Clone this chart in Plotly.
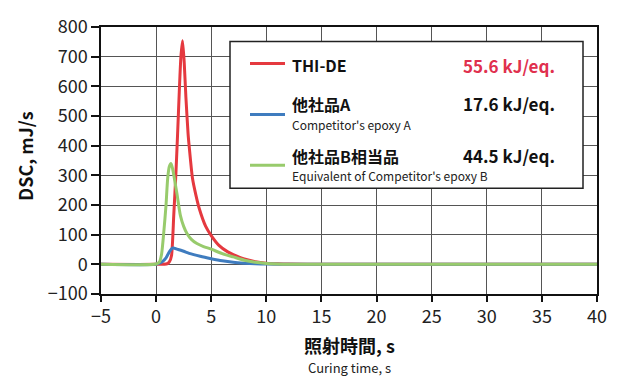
import plotly.graph_objects as go

FONT = "Noto Sans CJK JP"

# ---- data ----
t_red = [-5, 0, 1.0, 1.2, 1.4, 1.6, 1.8, 1.95, 2.1, 2.25, 2.4, 2.55, 2.7, 2.9, 3.0, 3.3, 3.6, 3.9,
         4.5, 5.0, 5.7, 6.5, 7.0, 8.0, 9.0, 10, 11, 12, 15, 40]
v_red = [0, 0, 2, 8, 30, 165, 310, 440, 580, 700, 754, 680, 565, 440, 398, 290, 235, 190,
         128, 97, 64, 42, 33, 18, 9, 4, 2, 1, 0, 0]

t_blue = [-5, 0, 0.3, 0.6, 0.9, 1.2, 1.5, 2.0, 2.5, 3.0, 4.0, 5.0, 6.0, 7.0, 8.0, 9.0, 10, 12, 40]
v_blue = [0, 0, 4, 10, 22, 42, 55, 50, 44, 37, 27, 19, 12, 7, 4, 2, 1, 0, 0]

t_green = [-5, 0, 0.3, 0.5, 0.7, 0.9, 1.05, 1.2, 1.35, 1.5, 1.7, 1.9, 2.2, 2.5, 2.8, 3.2, 3.7,
           4.3, 5.0, 6.0, 7.0, 8.0, 9.0, 10, 11, 12, 40]
v_green = [0, 1, 8, 35, 110, 200, 290, 330, 340, 322, 280, 236, 165, 128, 104, 84, 70,
           60, 51, 36, 25, 14, 7, 3, 1, 0, 0]

names_jp = ["THI-DE", "他社品A", "他社品B相当品"]
names_en = ["", "Competitor's epoxy A", "Equivalent of Competitor's epoxy B"]
energies = ["55.6 kJ/eq.", "17.6 kJ/eq.", "44.5 kJ/eq."]
colors = ["#e5393f", "#3f7cbf", "#98cb6c"]
x_ticks = list(range(-5, 41, 5))
y_ticks = list(range(-100, 801, 100))

fig = go.Figure()
fig.add_trace(go.Scatter(x=t_red, y=v_red, mode="lines", line=dict(color=colors[0], width=3, shape="spline", smoothing=0.6)))
fig.add_trace(go.Scatter(x=t_blue, y=v_blue, mode="lines", line=dict(color=colors[1], width=3, shape="spline", smoothing=0.6)))
fig.add_trace(go.Scatter(x=t_green, y=v_green, mode="lines", line=dict(color=colors[2], width=3, shape="spline", smoothing=0.6)))

axis_common = dict(showgrid=True, gridcolor="#555555", gridwidth=1, showline=True, linecolor="#111111",
                   linewidth=1.5, mirror=True, ticks="outside", tickcolor="#111111", tickwidth=1.5,
                   zeroline=False, tickfont=dict(family=FONT, size=18, color="#222222"))
fig.update_xaxes(range=[-5, 40], tickvals=x_ticks, ticklen=6, **axis_common)
fig.update_yaxes(range=[-100, 800], tickvals=y_ticks, ticklen=8, **axis_common)

fig.update_layout(
    width=619, height=380, margin=dict(l=101, r=22, t=16, b=86),
    plot_bgcolor="white", paper_bgcolor="white", showlegend=False,
    font=dict(family=FONT, color="#222222"),
)

W, H, L, B = 496.0, 278.0, 101.0, 294.0
def px(x): return (x - L) / W
def py(y): return (B - y) / H

# legend box
fig.add_shape(type="rect", xref="paper", yref="paper", x0=px(230), x1=px(583), y0=py(184), y1=py(31),
              line=dict(color="#222222", width=1.5), fillcolor="white", layer="above")
line_y = [54, 107, 160]
jp_y = [56, 96, 150]
en_y = [None, 117, 171]
for i in range(3):
    fig.add_shape(type="line", xref="paper", yref="paper", x0=px(250), x1=px(285), y0=py(line_y[i]), y1=py(line_y[i]),
                  line=dict(color=colors[i], width=3), layer="above")
    fig.add_annotation(xref="paper", yref="paper", x=px(290), y=py(jp_y[i]), xanchor="left", yanchor="middle",
                       text="<b>" + names_jp[i] + "</b>", showarrow=False, font=dict(family=FONT, size=16, color="#111111"))
    if names_en[i]:
        fig.add_annotation(xref="paper", yref="paper", x=px(290), y=py(en_y[i]), xanchor="left", yanchor="middle",
                           text=names_en[i], showarrow=False, font=dict(family=FONT, size=12, color="#222222"))
    fig.add_annotation(xref="paper", yref="paper", x=px(557), y=py(jp_y[i]), xanchor="right", yanchor="middle",
                       text="<b>" + energies[i] + "</b>", showarrow=False,
                       font=dict(family=FONT, size=17, color="#e0304e" if i == 0 else "#111111"))

# axis titles
fig.add_annotation(xref="paper", yref="paper", x=px(25), y=py(151), text="<b>DSC, mJ/s</b>", textangle=-90,
                   showarrow=False, xanchor="center", yanchor="middle", font=dict(family=FONT, size=18, color="#111111"))
fig.add_annotation(xref="paper", yref="paper", x=0.5, y=py(347), text="<b>照射時間, s</b>",
                   showarrow=False, xanchor="center", yanchor="middle", font=dict(family=FONT, size=18, color="#111111"))
fig.add_annotation(xref="paper", yref="paper", x=0.5, y=py(371), text="Curing time, s",
                   showarrow=False, xanchor="center", yanchor="middle", font=dict(family=FONT, size=13, color="#222222"))

fig.write_html("out.html")
